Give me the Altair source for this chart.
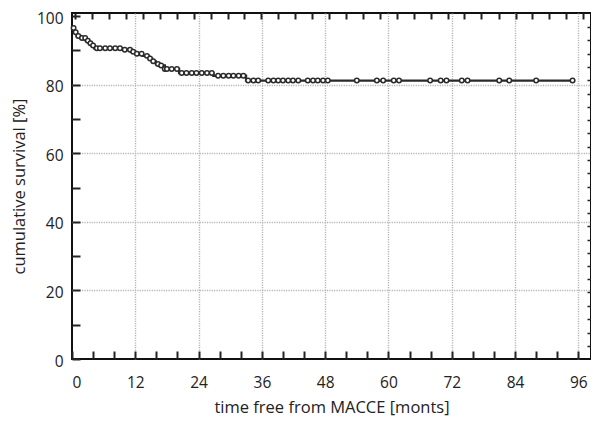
import altair as alt
import numpy as np
import pandas as pd

# Kaplan-Meier step curve (time in months, survival in %)
event_times = [0, 0.5, 0.9, 1.6, 2.6, 3.2, 3.7, 4.2, 9.6, 11.2, 12.0, 13.4,
               14.6, 15.2, 15.9, 16.5, 17.6, 20.3, 26.8, 33.0]
event_surv = [96.5, 95.3, 94.2, 93.6, 92.8, 92.1, 91.4, 90.6, 90.2, 89.6, 89.0, 88.4,
              87.6, 86.8, 86.0, 85.6, 84.6, 83.4, 82.6, 81.2]
end_time = 95.4

# censored observations (circles)
censor_times = [0.3, 0.7, 1.2, 1.9, 2.5, 3.0, 3.5, 4.0, 4.7, 5.3, 6.3, 7.2, 8.2, 9.1,
                10.0, 11.0, 11.6, 12.3, 13.2, 14.2, 14.8, 15.4, 16.3, 16.9, 17.6, 18.0,
                18.9, 19.9, 20.8, 21.7, 22.7, 23.6, 24.6, 25.6, 26.5, 27.7, 28.7, 29.7,
                30.6, 31.6, 32.5, 33.4, 34.4, 35.3, 37.2, 38.2, 39.1, 40.0, 41.0, 41.9,
                42.9, 44.7, 45.7, 46.6, 47.6, 48.5, 54.0, 57.8, 59.0, 61.0, 62.0, 67.9,
                69.9, 71.0, 73.9, 75.0, 81.0, 82.9, 88.0, 94.9]

# axis tick values
x_label_values = [0, 12, 24, 36, 48, 60, 72, 84, 96]
x_minor_ticks = [0, 4, 8, 12, 16, 20, 24, 28, 32, 36, 40, 44, 48, 52, 56, 60, 64,
                 68, 72, 76, 80, 84, 88, 92, 96]
top_ticks = [0.6, 3.8, 7.0, 10.2, 13.4, 16.7, 19.9, 23.1, 26.3, 29.5, 32.7, 35.9,
             39.1, 42.3, 45.5, 48.8, 52.0, 55.2, 58.4, 61.6, 64.8, 68.0, 71.2, 74.4,
             77.6, 80.9, 84.1, 87.3, 90.5, 93.7, 96.9]
y_label_values = [0, 20, 40, 60, 80, 100]
y_minor_ticks = [0, 10, 20, 30, 40, 50, 60, 70, 80, 90, 100]
right_ticks = [3.9, 7.7, 11.6, 15.5, 19.4, 23.2, 27.1, 31.0, 34.8, 38.7, 42.6, 46.4,
               50.3, 54.2, 58.1, 61.9, 65.8, 69.7, 73.5, 77.4, 81.3, 85.1, 89.0, 92.9,
               96.8]

line_df = pd.DataFrame({"t": event_times + [end_time],
                        "s": event_surv + [event_surv[-1]]})
idx = np.searchsorted(np.array(event_times), np.array(censor_times), side="right") - 1
cens_df = pd.DataFrame({"t": censor_times, "s": np.array(event_surv)[idx]})

FONT = "Open Sans"
xs = alt.Scale(domain=[0, 98.4], nice=False, zero=False)
ys = alt.Scale(domain=[0, 100.9], nice=False, zero=False)

grid_x_op = {"condition": {"test": "datum.value === 0", "value": 0}, "value": 1}
grid_y_op = {"condition": {"test": "datum.value === 0 || datum.value >= 100", "value": 0}, "value": 1}

tick_layer = alt.Chart(cens_df).mark_point(opacity=0).encode(
    x=alt.X("t:Q", scale=xs, axis=alt.Axis(
        orient="bottom", values=x_minor_ticks, labels=False, domain=False, grid=False,
        ticks=True, tickSize=8, tickWidth=2, tickColor="#222", offset=-8, title=None)),
    y=alt.Y("s:Q", scale=ys, axis=alt.Axis(
        orient="left", values=y_minor_ticks, labels=False, domain=False, grid=False,
        ticks=True, tickSize=8, tickWidth=2, tickColor="#222", offset=-8, title=None)),
)

line_layer = alt.Chart(line_df).mark_line(
    interpolate="step-after", color="#2a2a2a", strokeWidth=2.3
).encode(
    x=alt.X("t:Q", scale=xs, axis=alt.Axis(
        orient="bottom", values=x_label_values, ticks=False, tickSize=0, domain=False,
        grid=True, gridColor="#b5b5b5", gridDash=[1.2, 1.2], gridWidth=1.4,
        gridOpacity=grid_x_op,
        labelFont=FONT, labelFontSize=15.5, labelColor="#222", labelPadding=16,
        title="time free from MACCE [monts]", titleFont=FONT, titleFontSize=16.5,
        titleFontWeight="normal", titleColor="#222", titlePadding=9)),
    y=alt.Y("s:Q", scale=ys, axis=alt.Axis(
        orient="left", values=y_label_values, ticks=False, tickSize=0, domain=False,
        grid=True, gridColor="#b5b5b5", gridDash=[1.2, 1.2], gridWidth=1.4,
        gridOpacity=grid_y_op,
        labelFont=FONT, labelFontSize=15.5, labelColor="#222", labelPadding=9,
        labelOffset=2,
        title="cumulative survival [%]", titleFont=FONT, titleFontSize=16.5,
        titleFontWeight="normal", titleColor="#222", titlePadding=9)),
)

circle_layer = alt.Chart(cens_df).mark_point(
    shape="circle", filled=False, size=20, stroke="#2a2a2a", strokeWidth=1.5, fill="white",
    fillOpacity=1, opacity=1
).encode(
    x=alt.X("t:Q", scale=xs, axis=alt.Axis(
        orient="top", values=top_ticks, labels=False, domain=False, grid=False,
        ticks=True, tickSize=6, tickWidth=2, tickColor="#222", offset=-6, title=None)),
    y=alt.Y("s:Q", scale=ys, axis=alt.Axis(
        orient="right", values=right_ticks, labels=False, domain=False, grid=False,
        ticks=True, tickSize=4, tickWidth=1.5, tickColor="#222", offset=-4, title=None)),
)

chart = alt.layer(tick_layer, line_layer, circle_layer).resolve_axis(
    x="independent", y="independent"
).properties(
    width=519, height=346,
    padding={"left": 64, "top": 5, "right": 0, "bottom": 60},
    autosize=alt.AutoSizeParams(type="none"),
).configure_view(
    stroke="#111", strokeWidth=2
)

chart.save("out.html", embed_options={"renderer": "svg", "actions": False})
